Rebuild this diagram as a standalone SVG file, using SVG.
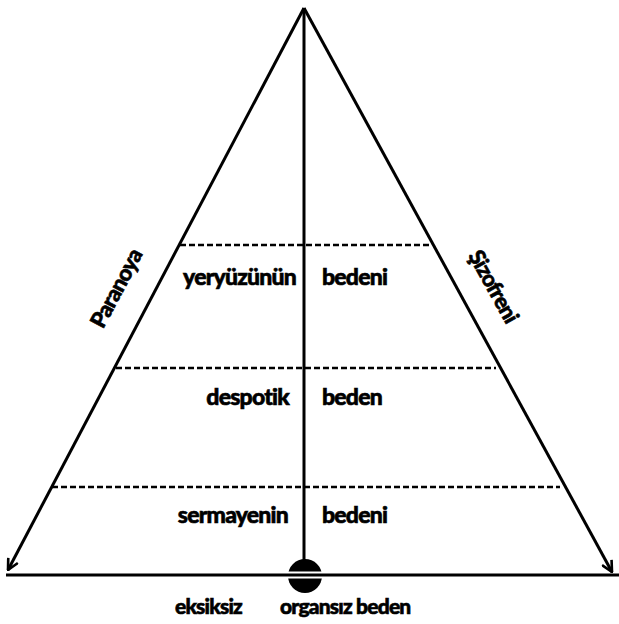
<svg xmlns="http://www.w3.org/2000/svg" width="619" height="624" viewBox="0 0 619 624">
<style>
.t{font-family:Lato,"Open Sans","Liberation Sans",sans-serif;font-weight:900;font-size:23px;fill:#000;stroke:#000;stroke-width:0.6;letter-spacing:-0.8px}
.s{font-size:21px}
.r{font-size:22px}
.e{stroke:#000;stroke-width:3;fill:none}
.d{stroke:#000;stroke-width:2.4;stroke-dasharray:6,3;fill:none}
</style>
<defs>
<marker id="ar" viewBox="0 0 12 12" refX="11" refY="6" markerWidth="13" markerHeight="13" markerUnits="userSpaceOnUse" orient="auto">
<path d="M1,1 L11,6 L1,11" fill="none" stroke="#000" stroke-width="2.4"/>
</marker>
</defs>
<rect width="619" height="624" fill="#fff"/>
<g id="connectors">
<line class="e" x1="304" y1="8" x2="8" y2="570" marker-end="url(#ar)"/>
<line class="e" x1="304" y1="8" x2="612" y2="572" marker-end="url(#ar)"/>
<line class="e" x1="304" y1="8" x2="304" y2="562"/>
<line class="d" x1="180" y1="245" x2="430" y2="245"/>
<line class="d" x1="116" y1="368" x2="496" y2="368"/>
<line class="d" x1="52" y1="487" x2="560" y2="487"/>
<line x1="6" y1="575" x2="619" y2="575" stroke="#000" stroke-width="3"/>
</g>
<g id="node-circle">
<circle cx="305" cy="576" r="17" fill="#000"/>
<rect x="286" y="571.5" width="38" height="7" fill="#fff"/>
<line x1="286" y1="575" x2="324" y2="575" stroke="#000" stroke-width="3"/>
</g>
<g id="node-paranoya"><text class="t r" transform="translate(123,292) rotate(-62)" text-anchor="middle">Paranoya</text></g>
<g id="node-sizofreni"><text class="t r" transform="translate(487,290) rotate(61)" text-anchor="middle">Şizofreni</text></g>
<g id="node-row1">
<text class="t" x="296" y="285" text-anchor="end">yeryüzünün</text>
<text class="t" x="322" y="285">bedeni</text>
</g>
<g id="node-row2">
<text class="t" x="289" y="405" text-anchor="end">despotik</text>
<text class="t" x="322" y="405">beden</text>
</g>
<g id="node-row3">
<text class="t" x="288" y="523" text-anchor="end">sermayenin</text>
<text class="t" x="322" y="523">bedeni</text>
</g>
<g id="node-bottom">
<text class="t s" x="175" y="614">eksiksiz</text>
<text class="t s" x="280" y="614">organsız beden</text>
</g>
</svg>
